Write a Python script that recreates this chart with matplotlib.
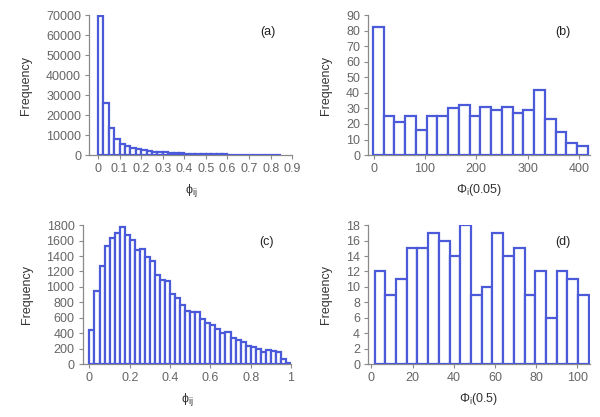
import numpy as np
import matplotlib
matplotlib.use("Agg")
import matplotlib.pyplot as plt

plt.rcParams['font.family'] = ['Liberation Sans', 'DejaVu Sans']
plt.rcParams['mathtext.default'] = 'regular'

# (a) phi_ij, all pairs
a_counts = [69500, 26200, 13700, 8300, 5800, 4600, 3700, 3000, 2500, 2100,
            1800, 1550, 1350, 1150, 1000, 880, 780, 690, 610, 540,
            480, 430, 380, 340, 300, 270, 240, 210, 190, 170,
            150, 130, 110, 90]
# (b) Phi_i(0.05)
b_counts = [82, 25, 21, 25, 16, 25, 25, 30, 32, 25,
            31, 29, 31, 27, 29, 42, 23, 15, 8, 6]
# (c) phi_ij
c_counts = [440, 950, 1270, 1530, 1630, 1700, 1770, 1670, 1610, 1480,
            1490, 1390, 1340, 1160, 1090, 1070, 910, 850, 770, 690,
            680, 680, 580, 530, 510, 450, 400, 420, 340, 310,
            280, 230, 220, 190, 160, 180, 170, 150, 60, 10]
# (d) Phi_i(0.5)
d_counts = [12, 9, 11, 15, 15, 17, 16, 14, 18, 9,
            10, 17, 14, 15, 9, 12, 6, 12, 11, 9]

blue = '#4a5ad8'
grey = '#8a8a8a'
tick_col = '#666666'

fig = plt.figure(figsize=(6, 4.17), dpi=100)

panels = [
    # counts, start, width, rect, xlim, xticks, xticklabels, ylim, yticks, xlabel, tag
    (a_counts, 0.0, 0.025, [0.149, 0.628, 0.338, 0.336], (-0.04, 0.9),
     np.arange(0, 0.91, 0.1), ['0'] + ['%.1f' % v for v in np.arange(0.1, 0.91, 0.1)],
     (0, 70000), np.arange(0, 70001, 10000), r'ϕ$_{ij}$', '(a)'),
    (b_counts, -1.0, 20.9, [0.614, 0.628, 0.369, 0.336], (-10, 421),
     [0, 100, 200, 300, 400], None,
     (0, 90), np.arange(0, 91, 10), r'Φ$_{i}$(0.05)', '(b)'),
    (c_counts, 0.0, 0.025, [0.138, 0.127, 0.347, 0.333], (-0.033, 1.0),
     [0, 0.2, 0.4, 0.6, 0.8, 1.0], ['0', '0.2', '0.4', '0.6', '0.8', '1'],
     (0, 1800), np.arange(0, 1801, 200), r'ϕ$_{ij}$', '(c)'),
    (d_counts, 1.5, 5.2, [0.614, 0.127, 0.369, 0.333], (-1.5, 106),
     [0, 20, 40, 60, 80, 100], None,
     (0, 18), np.arange(0, 19, 2), r'Φ$_{i}$(0.5)', '(d)'),
]

for counts, start, width, rect, xlim, xticks, xtl, ylim, yticks, xlabel, tag in panels:
    ax = fig.add_axes(rect)
    lefts = start + width * np.arange(len(counts))
    ax.bar(lefts, counts, width=width, align='edge', facecolor='white',
           edgecolor=blue, linewidth=1.6, zorder=3)
    ax.set_xlim(*xlim)
    ax.set_ylim(*ylim)
    ax.set_xticks(xticks)
    if xtl is not None:
        ax.set_xticklabels(xtl)
    ax.set_yticks(yticks)
    for s in ['top', 'right']:
        ax.spines[s].set_visible(False)
    for s in ['left', 'bottom']:
        ax.spines[s].set_color(grey)
        ax.spines[s].set_linewidth(0.9)
    ax.tick_params(axis='both', direction='out', length=3, width=0.8,
                   color=grey, labelcolor=tick_col, labelsize=9, pad=3)
    ax.set_ylabel('Frequency', fontsize=9, color='#333333', labelpad=10)
    ax.set_xlabel(xlabel, fontsize=9, color='#333333', labelpad=5)
    ax.text(0.88, 0.88, tag, transform=ax.transAxes, fontsize=9,
            color='#222222', ha='center', va='center')

fig.savefig('out.png', dpi=100)
